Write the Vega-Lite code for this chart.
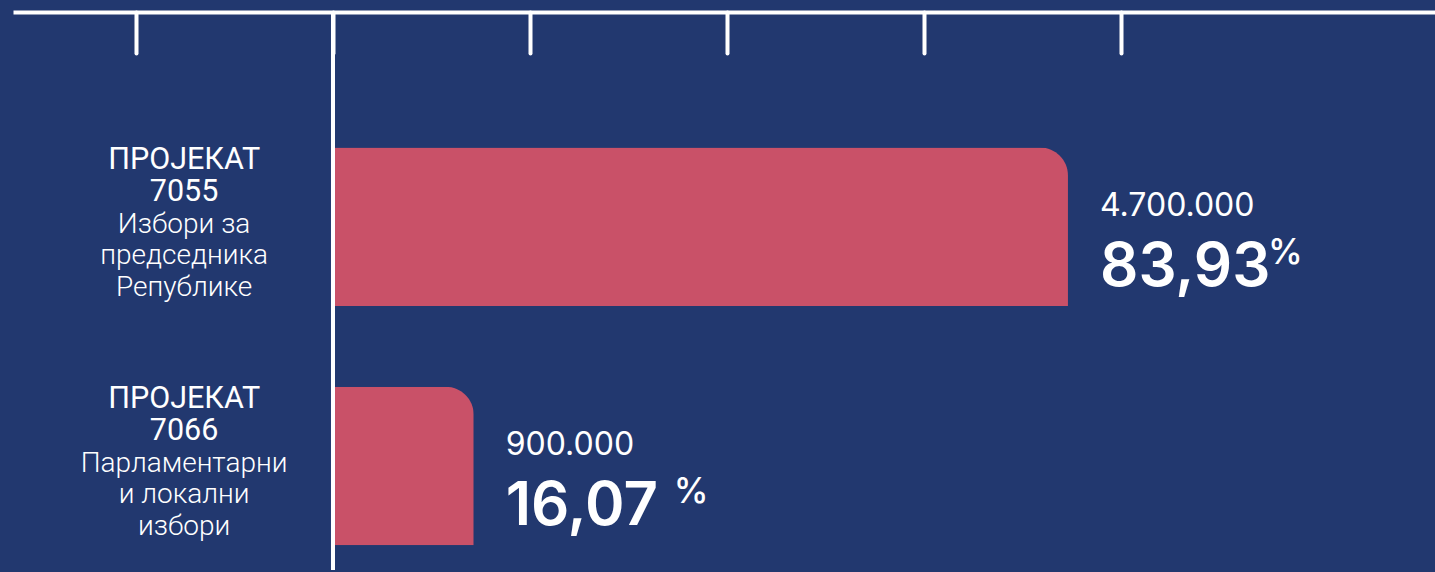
{
  "$schema": "https://vega.github.io/schema/vega-lite/v6.json",
  "width": 1435,
  "height": 572,
  "autosize": {"type": "fit", "contains": "padding"},
  "padding": {"left": 13, "top": 10, "right": 0, "bottom": 0},
  "background": "#22386f",
  "config": {"view": {"stroke": null}},
  "data": {
    "values": [
      {"proj": "7055", "title": "ПРОЈЕКАТ\n7055", "desc": "Избори за\nпредседника\nРепублике", "amount": "4.700.000", "share": 83.93, "shareLabel": "83,93"},
      {"proj": "7066", "title": "ПРОЈЕКАТ\n7066", "desc": "Парламентарни\nи локални\nизбори", "amount": "900.000", "share": 16.07, "shareLabel": "16,07"}
    ]
  },
  "encoding": {
    "y": {
      "field": "proj", "type": "nominal", "sort": null, "axis": null,
      "scale": {"paddingInner": 0.3375, "paddingOuter": 0.3354, "align": 0.845}
    },
    "x": {
      "field": "share", "type": "quantitative",
      "scale": {"domain": [-36.54, 125.84], "nice": false, "zero": false},
      "axis": {
        "orient": "top", "values": [-22.5, 0, 22.5, 45, 67.5, 90], "labels": false, "title": null, "grid": false,
        "domainColor": "white", "domainWidth": 4, "tickColor": "white", "tickWidth": 4, "tickSize": -41, "tickCap": "round"
      }
    }
  },
  "layer": [
    {"mark": {"type": "bar", "color": "#c95168", "cornerRadiusTopRight": 28}},
    {"mark": {"type": "rule", "color": "white", "strokeWidth": 4}, "encoding": {"x": {"datum": 0, "type": "quantitative"}, "y": null}},
    {
      "mark": {"type": "text", "font": "Roboto", "fontSize": 30.5, "fontWeight": 400, "color": "white", "align": "center", "baseline": "alphabetic", "lineBreak": "\n", "lineHeight": 31.5, "dy": -57.5},
      "encoding": {"x": {"datum": -17.0, "type": "quantitative"}, "text": {"field": "title"}}
    },
    {
      "mark": {"type": "text", "font": "Roboto", "fontSize": 28, "fontWeight": 300, "color": "white", "align": "center", "baseline": "alphabetic", "lineBreak": "\n", "lineHeight": 31.5, "dy": 6},
      "encoding": {"x": {"datum": -17.0, "type": "quantitative"}, "text": {"field": "desc"}}
    },
    {
      "mark": {"type": "text", "font": "Inter", "fontSize": 32, "fontWeight": 400, "color": "white", "align": "left", "baseline": "alphabetic", "dx": 32, "dy": -11},
      "encoding": {"text": {"field": "amount"}}
    },
    {
      "mark": {"type": "text", "font": "Inter", "fontSize": 60, "fontWeight": 600, "color": "white", "align": "left", "baseline": "alphabetic", "dx": 32, "dy": 59.5},
      "encoding": {"text": {"field": "shareLabel"}}
    },
    {
      "mark": {"type": "text", "font": "Inter", "fontSize": 35, "fontWeight": 500, "color": "white", "align": "left", "baseline": "alphabetic", "dx": 200, "dy": 37.5},
      "encoding": {"text": {"value": "%"}}
    }
  ]
}
